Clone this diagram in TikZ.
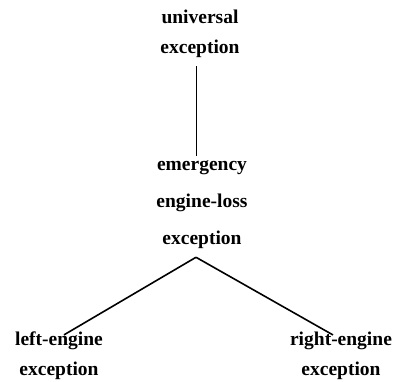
\documentclass[tikz,border=0pt]{standalone}
\usepackage{fontspec}
\setmainfont{Liberation Serif}
\begin{document}
\begin{tikzpicture}[x=1pt,y=1pt,
  concept/.style={align=center,inner sep=0pt,font=\bfseries\fontsize{19.5}{30}\selectfont},
  wide/.style={concept,font=\bfseries\fontsize{19.5}{37}\selectfont},
  link/.style={line width=1pt},
  branch/.style={line width=1.6pt}]
\useasboundingbox (0,0) rectangle (394,381);
\node[concept] (univ) at (200,347) {universal\\exception};
\node[wide] (emerg) at (202,176) {emergency\\engine-loss\\exception};
\node[concept] (left) at (59,25) {left-engine\\exception};
\node[concept] (right) at (341,25) {right-engine\\exception};
\draw[link] ([xshift=-4pt,yshift=-8pt]univ.south) -- ([xshift=-4pt,yshift=5pt]univ.south |- emerg.north);
\coordinate (apex) at ([xshift=-6pt,yshift=-8pt]emerg.south);
\draw[branch] (apex) -- ([xshift=5pt,yshift=-3pt]left.north);
\draw[branch] (apex) -- ([xshift=-8pt,yshift=-3pt]right.north);
\end{tikzpicture}
\end{document}
